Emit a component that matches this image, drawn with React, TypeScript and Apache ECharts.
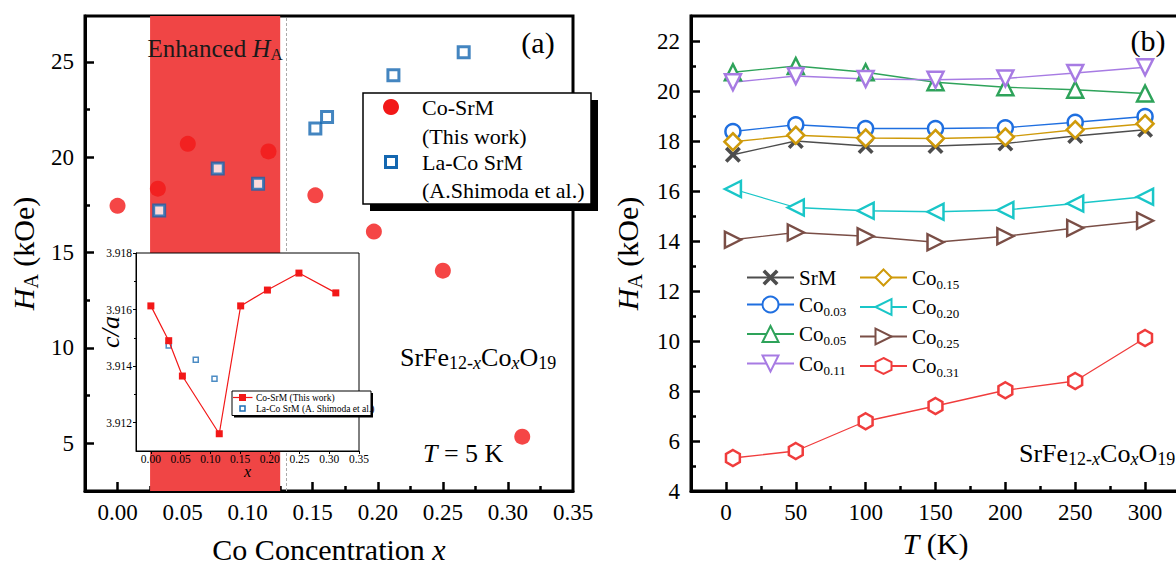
import React, { useEffect, useRef } from 'react';
import * as echarts from 'echarts';

const SERIF = "'Liberation Serif', 'Times New Roman', Times, serif";

// ---------- Panel (a): anisotropy field vs Co concentration (T = 5 K) ----------
const coSrmX = [0, 0.031, 0.054, 0.116, 0.152, 0.197, 0.25, 0.311];
const coSrmHA = [17.45, 18.35, 20.7, 20.3, 18.0, 16.1, 14.05, 5.35];
const laCoX = [0.032, 0.077, 0.108, 0.152, 0.161, 0.212, 0.266];
const laCoHA = [17.2, 19.4, 18.6, 21.5, 22.1, 24.3, 25.5];
const enhancedRange = [0.025, 0.125];
const xTicksA = [0, 0.05, 0.1, 0.15, 0.2, 0.25, 0.3, 0.35];
const xMinorA = [0.025, 0.075, 0.125, 0.175, 0.225, 0.275, 0.325];
const yTicksA = [5, 10, 15, 20, 25];
const yMinorA = [7.5, 12.5, 17.5, 22.5];

// ---------- Inset: c/a vs x ----------
const insetCoX = [0, 0.03, 0.053, 0.115, 0.151, 0.196, 0.249, 0.311];
const insetCoCA = [3.91613, 3.9149, 3.91365, 3.91161, 3.91613, 3.91669, 3.91729, 3.91659];
const insetLaX = [0.03, 0.0755, 0.107];
const insetLaCA = [3.91473, 3.91423, 3.91355];
const insetXTicks = [0, 0.05, 0.1, 0.15, 0.2, 0.25, 0.3, 0.35];
const insetYTicks = [3.912, 3.914, 3.916, 3.918];
const insetYMinor = [3.913, 3.915, 3.917];

// ---------- Panel (b): H_A vs T ----------
const temps = [5, 50, 100, 150, 200, 250, 300];
const srm = [17.45, 18.0, 17.8, 17.8, 17.9, 18.2, 18.45];
const co003 = [18.38, 18.65, 18.5, 18.5, 18.53, 18.75, 18.98];
const co005 = [20.75, 21.0, 20.75, 20.35, 20.15, 20.05, 19.9];
const co011 = [20.35, 20.6, 20.48, 20.45, 20.5, 20.72, 20.95];
const co015 = [17.97, 18.23, 18.12, 18.1, 18.16, 18.45, 18.69];
const co020 = [16.08, 15.34, 15.21, 15.17, 15.24, 15.5, 15.77];
const co025 = [14.05, 14.34, 14.19, 13.95, 14.19, 14.52, 14.81];
const co031 = [5.32, 5.6, 6.79, 7.4, 8.03, 8.4, 10.12];
const seriesNamesB = ['SrM', 'Co0.03', 'Co0.05', 'Co0.11', 'Co0.15', 'Co0.20', 'Co0.25', 'Co0.31'];
const seriesValuesB = [srm, co003, co005, co011, co015, co020, co025, co031];
const xTicksB = [0, 50, 100, 150, 200, 250, 300];
const xMinorB = [25, 75, 125, 175, 225, 275];
const yTicksB = [4, 6, 8, 10, 12, 14, 16, 18, 20, 22];
const yMinorB = [5, 7, 9, 11, 13, 15, 17, 19, 21];

const X_PATH = 'path://M0,1.6L1.6,0L5,3.4L8.4,0L10,1.6L6.6,5L10,8.4L8.4,10L5,6.6L1.6,10L0,8.4L3.4,5Z';
const DIAMOND = 'path://M5,0L10,5L5,10L0,5Z';
const HEX = 'path://M5,0L9.33,2.5L9.33,7.5L5,10L0.67,7.5L0.67,2.5Z';

const styleB = [
  { color: '#4d4d4d', symbol: X_PATH, rotate: 0, size: 16, filled: true },
  { color: '#1f6fe0', symbol: 'circle', rotate: 0, size: 15, filled: false },
  { color: '#2ea35a', symbol: 'triangle', rotate: 0, size: 16, filled: false },
  { color: '#a77be3', symbol: 'triangle', rotate: 180, size: 16, filled: false },
  { color: '#cf9a0a', symbol: DIAMOND, rotate: 0, size: 17, filled: false },
  { color: '#19c6c8', symbol: 'triangle', rotate: 90, size: 16, filled: false },
  { color: '#7a4e46', symbol: 'triangle', rotate: -90, size: 16, filled: false },
  { color: '#f03c3c', symbol: HEX, rotate: 0, size: 16, filled: false },
];

const RED = '#f21818';
const BAND = '#f04545';
const BLUE = '#1467b0';
const INSET_L = 90;
const INSET_T = 240;

const nameRich = (size: number) => ({
  n: { fontSize: size, fontFamily: SERIF, color: '#000', lineHeight: size + 6 },
  i: { fontSize: size, fontFamily: SERIF, fontStyle: 'italic', color: '#000', lineHeight: size + 6 },
  s: { fontSize: Math.round(size * 0.66), fontFamily: SERIF, color: '#000', lineHeight: 16, verticalAlign: 'bottom' },
  si: { fontSize: Math.round(size * 0.66), fontFamily: SERIF, fontStyle: 'italic', color: '#000', lineHeight: 16, verticalAlign: 'bottom' },
});

const formulaRich = {
  n: { fontSize: 26, fontFamily: SERIF, color: '#000', lineHeight: 30 },
  i: { fontSize: 26, fontFamily: SERIF, fontStyle: 'italic', color: '#000', lineHeight: 30 },
  s: { fontSize: 18, fontFamily: SERIF, color: '#000', lineHeight: 12, verticalAlign: 'bottom' },
  si: { fontSize: 18, fontFamily: SERIF, fontStyle: 'italic', color: '#000', lineHeight: 12, verticalAlign: 'bottom' },
};
const FORMULA = '{n|SrFe}{s|12-}{si|x}{n|Co}{si|x}{n|O}{s|19}';

function mainAxis(gridIndex: number, pos: string, min: number, max: number, labels: number[], ticks: number[], fmt: (v: number) => string, margin: number, extra: any) {
  return {
    type: 'value', gridIndex, position: pos, min, max,
    axisLine: { show: true, onZero: false, lineStyle: { color: '#000', width: 3 } },
    axisTick: { show: true, inside: true, length: 9, customValues: ticks, lineStyle: { color: '#000', width: 2.5 } },
    axisLabel: { show: true, customValues: labels, formatter: fmt, fontSize: 23, fontFamily: SERIF, color: '#000', margin },
    splitLine: { show: false },
    nameMoveOverlap: false,
    ...extra,
  };
}
function minorAxis(gridIndex: number, pos: string, min: number, max: number, ticks: number[]) {
  return {
    type: 'value', gridIndex, position: pos, min, max,
    axisLine: { show: false, onZero: false },
    axisTick: { show: true, inside: true, length: 5, customValues: ticks, lineStyle: { color: '#000', width: 2.5 } },
    axisLabel: { show: false },
    splitLine: { show: false },
  };
}

function legendB(names: string[], left: number) {
  return {
    orient: 'vertical', left, top: 267, padding: 0, itemGap: 6, itemWidth: 47, itemHeight: 20,
    selectedMode: false, data: names,
    formatter: (name: string) => (name === 'SrM' ? '{m|SrM}' : `{m|Co}{s|${name.slice(2)}}`),
    textStyle: {
      fontFamily: SERIF, color: '#000',
      rich: {
        m: { fontSize: 21, fontFamily: SERIF, color: '#000', lineHeight: 26 },
        s: { fontSize: 13, fontFamily: SERIF, color: '#000', lineHeight: 12, verticalAlign: 'bottom' },
      },
    },
  };
}

function buildMain(): any {
  const gridCommon = { show: true, borderColor: '#000', borderWidth: 3, backgroundColor: 'transparent', containLabel: false, outerBoundsMode: 'none' };
  return {
    animation: false,
    backgroundColor: '#fff',
    textStyle: { fontFamily: SERIF },
    grid: [
      { ...gridCommon, left: 85, top: 16, width: 488, height: 475 },
      { ...gridCommon, left: 691, top: 16, width: 489, height: 475 },
    ],
    xAxis: [
      mainAxis(0, 'bottom', -0.025, 0.35, xTicksA, xTicksA.slice(0, 7), (v) => v.toFixed(2), 10, {
        name: '{n|Co Concentration }{i|x}', nameLocation: 'middle', nameGap: 40,
        nameTextStyle: { rich: nameRich(30) },
      }),
      minorAxis(0, 'bottom', -0.025, 0.35, xMinorA),
      mainAxis(1, 'bottom', -25, 325, xTicksB, xTicksB, (v) => String(v), 10, {
        name: '{i|T}{n| (K)}', nameLocation: 'middle', nameGap: 34,
        nameTextStyle: { rich: nameRich(30) },
      }),
      minorAxis(1, 'bottom', -25, 325, xMinorB),
    ],
    yAxis: [
      mainAxis(0, 'left', 2.5, 27.4, yTicksA, yTicksA, (v) => String(v), 11, {
        name: '{i|H}{s|A}{n| (kOe)}', nameLocation: 'middle', nameGap: 44,
        nameTextStyle: { rich: nameRich(30) },
      }),
      minorAxis(0, 'left', 2.5, 27.4, yMinorA),
      mainAxis(1, 'left', 4, 23, yTicksB, yTicksB, (v) => String(v), 11, {
        name: '{i|H}{s|A}{n| (kOe)}', nameLocation: 'middle', nameGap: 46,
        nameTextStyle: { rich: nameRich(30) },
      }),
      minorAxis(1, 'left', 4, 23, yMinorB),
    ],
    legend: [
      legendB(seriesNamesB.slice(0, 4), 746),
      legendB(seriesNamesB.slice(4), 859),
    ],
    series: [
      {
        type: 'scatter', name: 'Co-SrM', xAxisIndex: 0, yAxisIndex: 0,
        data: coSrmX.map((x, i) => [x, coSrmHA[i]]),
        symbol: 'circle', symbolSize: 16, itemStyle: { color: RED }, z: 3,
        markArea: {
          silent: true,
          itemStyle: { color: BAND, opacity: 1 },
          label: {
            show: true, position: 'insideTop', distance: 17,
            formatter: '{n|Enhanced }{i|H}{s|A}',
            rich: {
              n: { fontSize: 25, fontFamily: SERIF, color: '#1a1a1a', lineHeight: 30 },
              i: { fontSize: 25, fontFamily: SERIF, fontStyle: 'italic', color: '#1a1a1a', lineHeight: 30 },
              s: { fontSize: 17, fontFamily: SERIF, color: '#1a1a1a', lineHeight: 14, verticalAlign: 'bottom' },
            },
          },
          data: [[{ xAxis: enhancedRange[0] }, { xAxis: enhancedRange[1] }]],
        },
        markLine: {
          silent: true, symbol: ['none', 'none'], label: { show: false },
          lineStyle: { color: '#aaaaaa', type: [3, 2], width: 1 },
          data: [{ xAxis: enhancedRange[1] }],
        },
      },
      {
        type: 'scatter', name: 'La-Co SrM', xAxisIndex: 0, yAxisIndex: 0,
        data: laCoX.map((x, i) => [x, laCoHA[i]]),
        symbol: 'rect', symbolSize: 11, itemStyle: { color: '#fff', borderColor: BLUE, borderWidth: 3 }, z: 3,
      },
      ...seriesNamesB.map((name, i) => {
        const st = styleB[i];
        return {
          type: 'line', name, xAxisIndex: 2, yAxisIndex: 2,
          data: temps.map((t, j) => [t, seriesValuesB[i][j]]),
          symbol: st.symbol, symbolSize: st.size, symbolRotate: st.rotate, symbolKeepAspect: true,
          lineStyle: { color: st.color, width: 1.3 },
          itemStyle: st.filled ? { color: st.color, borderWidth: 0 } : { color: '#fff', borderColor: st.color, borderWidth: 2.5 },
          emphasis: { disabled: true }, z: 3,
        };
      }),
    ],
    graphic: [
      { type: 'text', x: 538, y: 42, z: 100, style: { text: '(a)', fontSize: 30, fontFamily: SERIF, fill: '#000', align: 'center', verticalAlign: 'middle' } },
      { type: 'text', x: 1148, y: 40, z: 100, style: { text: '(b)', fontSize: 30, fontFamily: SERIF, fill: '#000', align: 'center', verticalAlign: 'middle' } },
      { type: 'text', x: 400, y: 357, z: 100, style: { text: FORMULA, rich: formulaRich, align: 'left', verticalAlign: 'middle' } },
      { type: 'text', x: 1019, y: 453, z: 100, style: { text: FORMULA, rich: formulaRich, align: 'left', verticalAlign: 'middle' } },
      { type: 'text', x: 423, y: 453, z: 100, style: { text: '{i|T}{n| = 5 K}', rich: formulaRich, align: 'left', verticalAlign: 'middle' } },
      // legend of panel (a)
      { type: 'rect', z: 100, shape: { x: 370, y: 100, width: 228, height: 111 }, style: { fill: '#000' } },
      { type: 'rect', z: 101, shape: { x: 363, y: 93, width: 228, height: 111 }, style: { fill: '#fff', stroke: '#000', lineWidth: 1.5 } },
      { type: 'circle', z: 102, shape: { cx: 391, cy: 107, r: 8 }, style: { fill: RED } },
      { type: 'rect', z: 102, shape: { x: 385.5, y: 156.5, width: 11, height: 11 }, style: { fill: '#fff', stroke: BLUE, lineWidth: 3 } },
      { type: 'text', z: 102, x: 422, y: 107, style: { text: 'Co-SrM', fontSize: 22, fontFamily: SERIF, fill: '#000', verticalAlign: 'middle' } },
      { type: 'text', z: 102, x: 422, y: 136, style: { text: '(This work)', fontSize: 22, fontFamily: SERIF, fill: '#000', verticalAlign: 'middle' } },
      { type: 'text', z: 102, x: 422, y: 162, style: { text: 'La-Co SrM', fontSize: 22, fontFamily: SERIF, fill: '#000', verticalAlign: 'middle' } },
      { type: 'text', z: 102, x: 422, y: 190, style: { text: '(A.Shimoda et al.)', fontSize: 22, fontFamily: SERIF, fill: '#000', verticalAlign: 'middle' } },
    ],
  };
}

function buildInset(): any {
  const lx = 232 - INSET_L;
  const ly = 391 - INSET_T;
  return {
    animation: false,
    backgroundColor: 'transparent',
    textStyle: { fontFamily: SERIF },
    grid: { left: 136 - INSET_L, top: 253 - INSET_T, width: 223, height: 198, show: true, backgroundColor: '#fff', borderColor: '#000', borderWidth: 1, containLabel: false, outerBoundsMode: 'none' },
    xAxis: {
      type: 'value', min: -0.025, max: 0.35,
      axisLine: { show: true, onZero: false, lineStyle: { color: '#000', width: 1 } },
      axisTick: { show: true, inside: false, length: 3, customValues: insetXTicks, lineStyle: { color: '#000', width: 1 } },
      axisLabel: { customValues: insetXTicks, formatter: (v: number) => v.toFixed(2), fontSize: 11.5, lineHeight: 11, fontFamily: SERIF, color: '#000', margin: 2 },
      splitLine: { show: false },
      name: 'x', nameLocation: 'middle', nameGap: 14, nameMoveOverlap: false,
      nameTextStyle: { fontSize: 16, fontStyle: 'italic', fontFamily: SERIF, color: '#000', lineHeight: 12 },
    },
    yAxis: [
      {
        type: 'value', min: 3.911, max: 3.918,
        axisLine: { show: true, onZero: false, lineStyle: { color: '#000', width: 1 } },
        axisTick: { show: true, inside: false, length: 3, customValues: insetYTicks, lineStyle: { color: '#000', width: 1 } },
        axisLabel: { customValues: insetYTicks, formatter: (v: number) => v.toFixed(3), fontSize: 11.5, fontFamily: SERIF, color: '#000', margin: 4 },
        splitLine: { show: false },
      },
      {
        type: 'value', min: 3.911, max: 3.918, position: 'left',
        axisLine: { show: false, onZero: false },
        axisTick: { show: true, inside: false, length: 2, customValues: insetYMinor, lineStyle: { color: '#000', width: 1 } },
        axisLabel: { show: false }, splitLine: { show: false },
      },
    ],
    series: [
      {
        type: 'line', name: 'Co-SrM (This work)', xAxisIndex: 0, yAxisIndex: 0,
        data: insetCoX.map((x, i) => [x, insetCoCA[i]]),
        symbol: 'rect', symbolSize: 7, itemStyle: { color: RED }, lineStyle: { color: RED, width: 1.2 },
      },
      {
        type: 'scatter', name: 'La-Co SrM (A. Shimoda et al.)', xAxisIndex: 0, yAxisIndex: 0,
        data: insetLaX.map((x, i) => [x, insetLaCA[i]]),
        symbol: 'rect', symbolSize: 5, itemStyle: { color: '#fff', borderColor: '#1f6fb5', borderWidth: 1.5 },
      },
    ],
    graphic: [
      { type: 'text', x: 110 - INSET_L, y: 332 - INSET_T, rotation: Math.PI / 2, style: { text: 'c/a', fontSize: 26, fontStyle: 'italic', fontFamily: SERIF, fill: '#000', align: 'center', verticalAlign: 'middle' } },
      { type: 'rect', z: 100, shape: { x: lx + 2, y: ly + 2, width: 139, height: 24.5 }, style: { fill: '#000' } },
      { type: 'rect', z: 101, shape: { x: lx, y: ly, width: 139, height: 24.5 }, style: { fill: '#fff', stroke: '#000', lineWidth: 1 } },
      { type: 'line', z: 102, shape: { x1: lx + 1, y1: ly + 6.5, x2: lx + 20.5, y2: ly + 6.5 }, style: { stroke: RED, lineWidth: 1.2 } },
      { type: 'rect', z: 102, shape: { x: lx + 7, y: ly + 3, width: 7, height: 7 }, style: { fill: RED } },
      { type: 'rect', z: 102, shape: { x: lx + 8, y: ly + 15, width: 5, height: 5 }, style: { fill: '#fff', stroke: '#1f6fb5', lineWidth: 1.5 } },
      { type: 'text', z: 102, x: lx + 24, y: ly + 6.5, style: { text: 'Co-SrM (This work)', fontSize: 9.5, fontFamily: SERIF, fill: '#000', verticalAlign: 'middle' } },
      { type: 'text', z: 102, x: lx + 24, y: ly + 17.5, style: { text: 'La-Co SrM (A. Shimoda et al.)', fontSize: 9.5, fontFamily: SERIF, fill: '#000', verticalAlign: 'middle' } },
    ],
  };
}

export default function App() {
  const mainRef = useRef<HTMLDivElement>(null);
  const insetRef = useRef<HTMLDivElement>(null);
  useEffect(() => {
    const main = echarts.init(mainRef.current as HTMLDivElement, null, { renderer: 'svg' });
    const inset = echarts.init(insetRef.current as HTMLDivElement, null, { renderer: 'svg' });
    main.setOption(buildMain());
    inset.setOption(buildInset());
    return () => {
      main.dispose();
      inset.dispose();
    };
  }, []);
  return (
    <div style={{ position: 'fixed', left: 0, top: 0, width: 1176, height: 564, background: '#fff', overflow: 'hidden' }}>
      <div ref={mainRef} style={{ position: 'absolute', left: 0, top: 0, width: 1176, height: 564 }} />
      <div ref={insetRef} style={{ position: 'absolute', left: INSET_L, top: INSET_T, width: 290, height: 245 }} />
    </div>
  );
}
